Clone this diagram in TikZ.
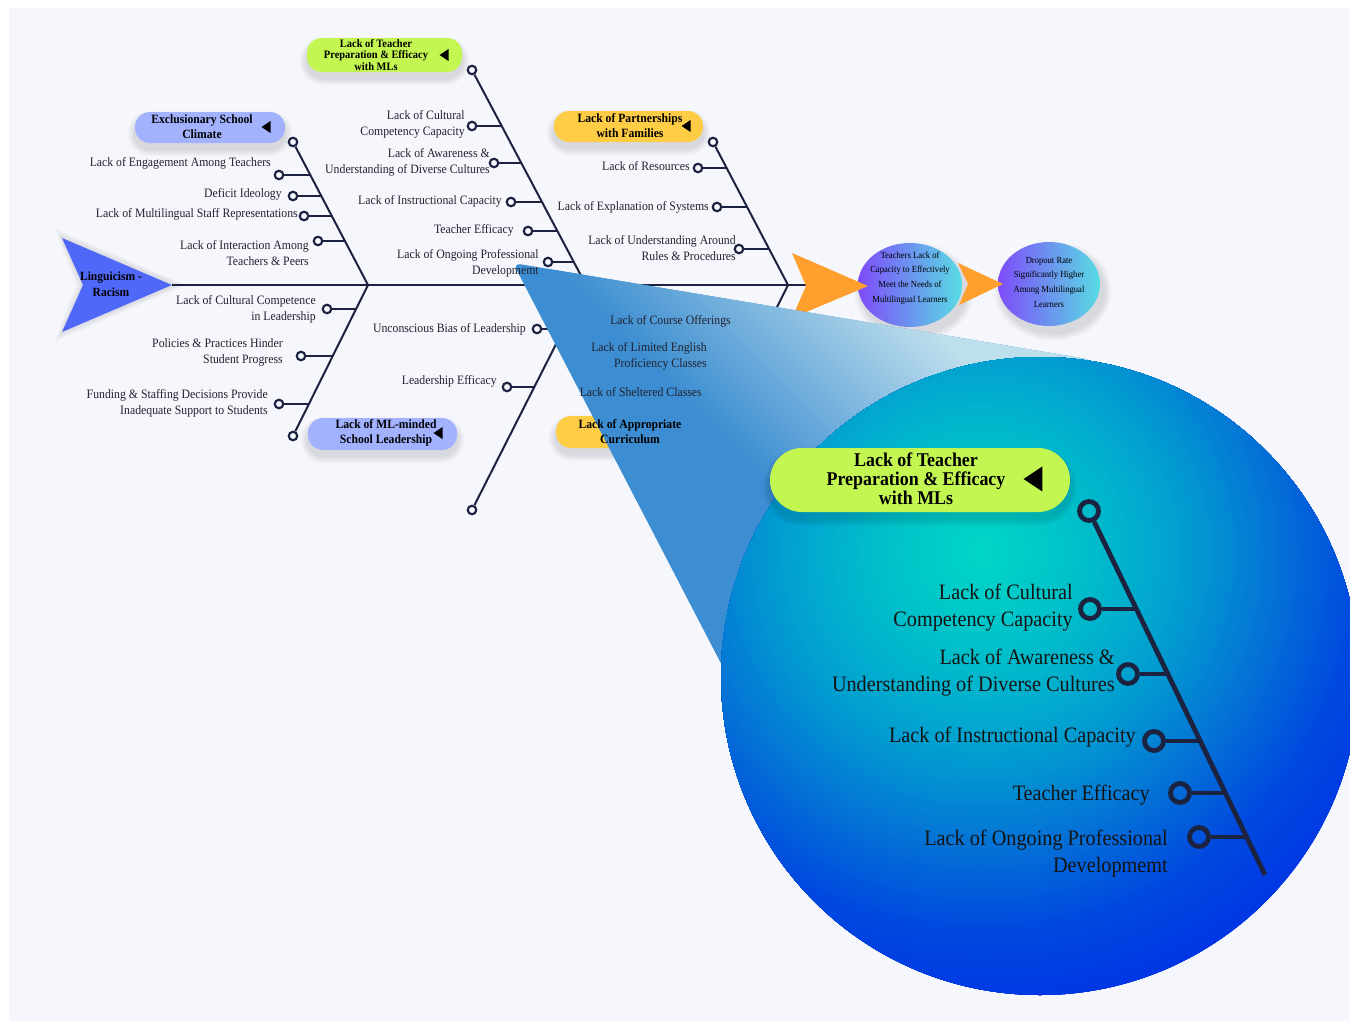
\documentclass[tikz,border=0pt]{standalone}
\usepackage{fontspec}
\setmainfont{Liberation Serif}[FakeStretch=0.92]
\usetikzlibrary{shapes.geometric,calc}

\definecolor{bgc}{HTML}{F6F7FC}
\definecolor{ink}{HTML}{1C2340}
\definecolor{txtc}{HTML}{222230}
\definecolor{headblue}{HTML}{5068F8}
\definecolor{peri}{HTML}{A3B2FF}
\definecolor{limec}{HTML}{C4F652}
\definecolor{yellowc}{HTML}{FFCC45}
\definecolor{orangec}{HTML}{FF9F2D}
\definecolor{ovL}{HTML}{7E4CFA}
\definecolor{ovR}{HTML}{58DDE3}
\definecolor{coneBlue}{HTML}{3C8DD1}
\definecolor{conePale}{HTML}{BEDFEC}
\definecolor{mgA}{HTML}{00D8C6}
\definecolor{mgB}{HTML}{00C0CA}
\definecolor{mgC}{HTML}{02A0D0}
\definecolor{mgD}{HTML}{0475D5}
\definecolor{mgE}{HTML}{0049DF}
\definecolor{mgF}{HTML}{0033E5}

\newdimen\pxu \pxu=0.75pt
\newcommand\fSmall{\fontsize{9.6pt}{12pt}\selectfont}
\newcommand\fLabel{\fontsize{9.5pt}{11.3pt}\selectfont\bfseries}
\newcommand\fHead{\fontsize{9.4pt}{12pt}\selectfont\bfseries}
\newcommand\fLime{\fontsize{8.5pt}{8.6pt}\selectfont\bfseries}
\newcommand\fOval{\fontsize{7pt}{11pt}\selectfont}
\newcommand\fBig{\fontsize{16.5pt}{20.3pt}\selectfont}
\newcommand\fBigLime{\fontsize{14.6pt}{14.3pt}\selectfont\bfseries}

\newcommand\subbone[4]{\node[endc] (#1) at (#2,#3) {}; \coordinate (#1j) at (#4,#3); \draw[bone] (#1) -- (#1j);}
\newcommand\bigsub[4]{\node[bigc] (#1) at (#2,#3) {}; \coordinate (#1j) at (#4,#3); \draw[bigbone] (#1) -- (#1j);}
\newcommand\ltri[3]{\fill[black] ({#1+0.45*#3},{#2-0.6*#3}) -- ({#1-0.45*#3},{#2}) -- ({#1+0.45*#3},{#2+0.6*#3}) -- cycle;}
\newcommand\pillshadow[5]{%
  \foreach \k in {1,...,6}{%
    \pgfmathsetmacro\ww{#3+2.4*\k}%
    \pgfmathsetmacro\hh{#4+2.4*\k}%
    \pgfmathsetmacro\rr{0.49*\hh*0.75}%
    \fill[black,opacity=0.02,rounded corners=\rr pt] ({#1-\ww/2},{#2+#5-\hh/2}) rectangle ({#1+\ww/2},{#2+#5+\hh/2});
  }}
\newcommand\ovalshadow[4]{%
  \foreach \k in {1,...,6}{\fill[black,opacity=0.02] ({#1+4},{#2+7}) ellipse ({#3+1.3*\k} and {#4+1.3*\k});}}

\begin{document}
\begin{tikzpicture}[x=0.75pt,y=-0.75pt,
  txt/.style={inner sep=0pt, text=txtc, font=\fSmall, align=right, anchor=east},
  lbl/.style={inner sep=0pt, text=black, font=\fLabel, align=center},
  pill/.style={rounded corners=15\pxu, inner sep=0pt},
  endc/.style={circle, draw=ink, line width=1.6pt, minimum size=8.5\pxu, inner sep=0pt},
  bone/.style={draw=ink, line width=1.5pt},
  spine/.style={draw=ink, line width=1.9pt},
  bigc/.style={circle, draw=ink, line width=3.6pt, minimum size=19\pxu, inner sep=0pt},
  bigbone/.style={draw=ink, line width=3.6pt},
  bigtxt/.style={txt, font=\fBig, text=black!92},
  oval/.style={ellipse, minimum width=104\pxu, minimum height=84\pxu, inner sep=0pt, left color=ovL, right color=ovR},
  ovaltxt/.style={inner sep=0pt, align=center, font=\fOval, text=black}
]
\useasboundingbox (0,0) rectangle (1350,1021);
\fill[white] (0,0) rectangle (1350,1021);
\fill[bgc] (9,8) rectangle (1350,1021);

% pills
\pillshadow{210}{127.5}{150}{31}{6}
\pillshadow{384.5}{55}{155}{34}{6}
\pillshadow{628.5}{126.5}{149}{31}{6}
\pillshadow{382.5}{434}{149}{32}{6}
\pillshadow{631}{432}{150}{32}{6}
\node[pill, fill=peri, minimum width=150\pxu, minimum height=31\pxu] (p1) at (210,127.5) {};
\node[pill, fill=limec, minimum width=155\pxu, minimum height=34\pxu] (p2) at (384.5,55) {};
\node[pill, fill=yellowc, minimum width=149\pxu, minimum height=31\pxu] (p3) at (628.5,126.5) {};
\node[pill, fill=peri, minimum width=149\pxu, minimum height=32\pxu] (p4) at (382.5,434) {};
\node[pill, fill=yellowc, minimum width=150\pxu, minimum height=32\pxu] (p5) at (631,432) {};
\ltri{266}{127}{10}
\ltri{444}{55}{10}
\ltri{686}{126}{10}
\ltri{438}{433}{10}
\ltri{688}{432}{10}

% head and spine
\foreach \k in {1,...,5}{\fill[black,opacity=0.018] ({62-1.5*\k},{238-2*\k}) -- ({176+2*\k},285) -- ({62-1.5*\k},{332+2*\k}) -- ({83-1.5*\k},285) -- cycle;}
\fill[headblue] (62,238) -- (172,285) -- (62,332) -- (83,285) -- cycle;
\coordinate (htip) at (172,285);
\coordinate (J1) at (368,285);
\coordinate (J2) at (586,285);
\coordinate (J3) at (788,285);
\coordinate (tail) at (806,285);
\draw[spine] (htip) -- (tail);

% bones
\node[endc] (u1) at (293,142) {}; \draw[bone] (u1) -- (J1);
\subbone{u1a}{279}{175}{310.3}
\subbone{u1b}{293}{196}{321.3}
\subbone{u1c}{304}{216}{331.8}
\subbone{u1d}{318}{241}{344.9}
\node[endc] (u2) at (472,70) {}; \draw[bone] (u2) -- (J2);
\subbone{u2a}{472}{126}{501.7}
\subbone{u2b}{494}{163}{521.3}
\subbone{u2c}{511}{202}{542}
\subbone{u2d}{528}{231}{557.4}
\subbone{u2e}{548}{262}{573.8}
\node[endc] (u3) at (713,142) {}; \draw[bone] (u3) -- (J3);
\subbone{u3a}{698}{168}{726.6}
\subbone{u3b}{717}{207}{747.1}
\subbone{u3c}{739}{249}{769.1}
\node[endc] (l1) at (293,436) {}; \draw[bone] (J1) -- (l1);
\subbone{l1a}{327}{309}{356.1}
\subbone{l1b}{301}{356}{332.7}
\subbone{l1c}{279}{404}{308.9}
\node[endc] (l2) at (472,510) {}; \draw[bone] (J2) -- (l2);
\subbone{l2a}{537}{329}{563.7}
\subbone{l2b}{507}{387}{534.3}
\node[endc] (l3) at (713,436) {}; \draw[bone] (J3) -- (l3);
\subbone{l3a}{740}{321}{770.1}
\subbone{l3b}{718}{356}{752.7}
\subbone{l3c}{712}{392}{734.9}

% effects
\ovalshadow{910}{285}{52}{42}
\ovalshadow{1049}{284}{51}{42}
\node[oval] (e1) at (910,285) {};
\node[oval, minimum width=102\pxu] (e2) at (1049,284) {};
\node[ovaltxt] (e1t) at (910,278) {Teachers Lack of\\Capacity to Effectively\\Meet the Needs of\\Multilingual Learners};
\node[ovaltxt] (e2t) at (1049,282) {Dropout Rate\\Significantly Higher\\Among Multilingual\\Learners};
\fill[orangec] (792,253) -- (868,286) -- (792,318) -- (806,286) -- cycle;
\fill[orangec] (958,263) -- (1003,284) -- (959,305) -- (968,284) -- cycle;

% magnifier cone
\begin{scope}
  \clip[rounded corners=8\pxu] (1040,676) -- (1093,360) -- (513,263) -- (740,700) -- cycle;
  \fill[coneBlue] (480,240) rectangle (1120,720);
  \foreach \sv in {280,290,...,590}{
    \pgfmathsetmacro\pc{(\sv-280)/320*100}
    \fill[conePale!\pc!coneBlue] ({\sv+240},240) -- ({\sv+10.8+240},240) -- ({\sv+10.8+720},720) -- ({\sv+720},720) -- cycle;
  }
  \fill[conePale] (840,240) -- (1400,240) -- (1400,720) -- (1320,720) -- cycle;
\end{scope}

% texts
\node[lbl, font=\fHead] (head) at (111,284) {Linguicism -\\Racism};
\node[lbl] (p1t) at (202,127) {Exclusionary School\\Climate};
\node[lbl, font=\fLime] (p2t) at (376,55) {Lack of Teacher\\Preparation \& Efficacy\\with MLs};
\node[lbl] (p3t) at (630,126) {Lack of Partnerships\\with Families};
\node[lbl] (p4t) at (386,433) {Lack of ML-minded\\School Leadership};
\node[lbl] (p5t) at (630,432) {Lack of Appropriate\\Curriculum};

\node[txt] (t1) at (271,163) {Lack of Engagement Among Teachers};
\node[txt] (t2) at (282,194) {Deficit Ideology};
\node[txt] (t3) at (298,214) {Lack of Multilingual Staff Representations};
\node[txt] (t4) at (309,253) {Lack of Interaction Among\\Teachers \& Peers};
\node[txt] (t5) at (316,309) {Lack of Cultural Competence\\in Leadership};
\node[txt] (t6) at (283,352) {Policies \& Practices Hinder\\Student Progress};
\node[txt] (t7) at (268,403) {Funding \& Staffing Decisions Provide\\Inadequate Support to Students};
\node[txt] (t8) at (465,124) {Lack of Cultural\\Competency Capacity};
\node[txt] (t9) at (490,162) {Lack of Awareness \&\\Understanding of Diverse Cultures};
\node[txt] (t10) at (502,201) {Lack of Instructional Capacity};
\node[txt] (t11) at (514,230) {Teacher Efficacy};
\node[txt] (t12) at (539,263) {Lack of Ongoing Professional\\Developmemt};
\node[txt] (t13) at (526,329) {Unconscious Bias of Leadership};
\node[txt] (t14) at (497,381) {Leadership Efficacy};
\node[txt] (t15) at (690,166) {Lack of Resources};
\node[txt] (t16) at (709,207) {Lack of Explanation of Systems};
\node[txt] (t17) at (736,248) {Lack of Understanding Around\\Rules \& Procedures};
\node[txt] (t18) at (731,321) {Lack of Course Offerings};
\node[txt] (t19) at (707,356) {Lack of Limited English\\Proficiency Classes};
\node[txt] (t20) at (702,392) {Lack of Sheltered Classes};

% magnified view
\node[circle, minimum size=638\pxu, inner sep=0pt] (mag) at (1040,676) {};
\coordinate (hot) at (981,552);
\begin{scope}
  \clip (1040,676) circle (319);
  \fill[mgF] (700,340) rectangle (1400,1010);
  \foreach \r in {470,466,...,386}{\pgfmathsetmacro\pc{(\r-380)/90*100}\fill[mgF!\pc!mgE] (hot) circle (\r);}
  \foreach \r in {380,376,...,296}{\pgfmathsetmacro\pc{(\r-290)/90*100}\fill[mgE!\pc!mgD] (hot) circle (\r);}
  \foreach \r in {290,286,...,206}{\pgfmathsetmacro\pc{(\r-200)/90*100}\fill[mgD!\pc!mgC] (hot) circle (\r);}
  \foreach \r in {200,196,...,104}{\pgfmathsetmacro\pc{(\r-100)/100*100}\fill[mgC!\pc!mgB] (hot) circle (\r);}
  \foreach \r in {100,96,...,4}{\pgfmathsetmacro\pc{\r}\fill[mgB!\pc!mgA] (hot) circle (\r);}
\end{scope}
\pillshadow{920}{480}{300}{64}{7}
\node[pill, fill=limec, rounded corners=32\pxu, minimum width=300\pxu, minimum height=64\pxu] (bp) at (920,480) {};
\ltri{1033}{479}{21}
\node[lbl, font=\fBigLime] (bpt) at (916,479) {Lack of Teacher\\Preparation \& Efficacy\\with MLs};
\node[bigc] (m0) at (1089,511) {};
\coordinate (mend) at (1265,875);
\draw[bigbone] (m0) -- (mend);
\bigsub{ma}{1090}{609}{1136.4}
\bigsub{mb}{1128}{674}{1167.8}
\bigsub{mc}{1154}{741}{1200.2}
\bigsub{md}{1180}{793}{1225.3}
\bigsub{me}{1199}{837}{1246.6}
\node[bigtxt] (mt1) at (1073,608) {Lack of Cultural\\Competency Capacity};
\node[bigtxt] (mt2) at (1115,673) {Lack of Awareness \&\\Understanding of Diverse Cultures};
\node[bigtxt] (mt3) at (1136,737) {Lack of Instructional Capacity};
\node[bigtxt] (mt4) at (1150,795) {Teacher Efficacy};
\node[bigtxt] (mt5) at (1168,854) {Lack of Ongoing Professional\\Developmemt};
\end{tikzpicture}
\end{document}
